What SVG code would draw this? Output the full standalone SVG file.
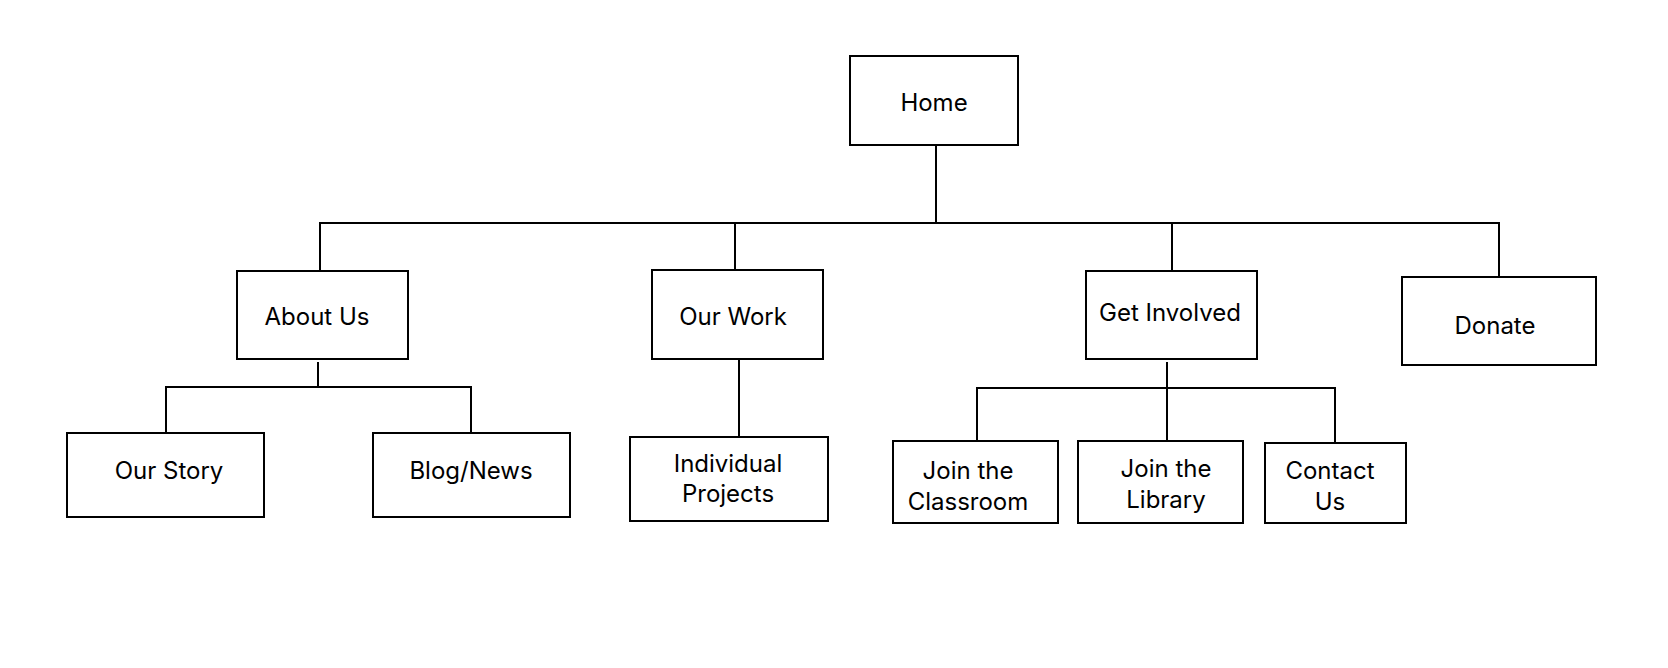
<svg xmlns="http://www.w3.org/2000/svg" width="1668" height="668" viewBox="0 0 1668 668">
<style>
.box{fill:#fff;stroke:#000;stroke-width:2}
.lbl{font-family:Inter,"Noto Sans","Liberation Sans",sans-serif;font-size:24px;fill:#000;text-anchor:middle}
.con{fill:none;stroke:#000;stroke-width:2}
</style>
<rect width="1668" height="668" fill="#fff"/>
<g id="connectors">
<path class="con" d="M936 145V223"/>
<path class="con" d="M320 271V223H1499V277"/>
<path class="con" d="M735 223V271"/>
<path class="con" d="M1172 223V271"/>
<path class="con" d="M318 362V387"/>
<path class="con" d="M166 433V387H471V433"/>
<path class="con" d="M739 359V437"/>
<path class="con" d="M1167 362V441"/>
<path class="con" d="M977 441V388H1335V443"/>
</g>
<g id="home"><rect class="box" x="850" y="56" width="168" height="89"/><text class="lbl" x="934" y="111">Home</text></g>
<g id="about"><rect class="box" x="237" y="271" width="171" height="88"/><text class="lbl" x="317" y="325">About Us</text></g>
<g id="work"><rect class="box" x="652" y="270" width="171" height="89"/><text class="lbl" x="733" y="325">Our Work</text></g>
<g id="involved"><rect class="box" x="1086" y="271" width="171" height="88"/><text class="lbl" x="1170" y="321">Get Involved</text></g>
<g id="donate"><rect class="box" x="1402" y="277" width="194" height="88"/><text class="lbl" x="1495" y="334">Donate</text></g>
<g id="story"><rect class="box" x="67" y="433" width="197" height="84"/><text class="lbl" x="169" y="479">Our Story</text></g>
<g id="blog"><rect class="box" x="373" y="433" width="197" height="84"/><text class="lbl" x="471" y="479">Blog/News</text></g>
<g id="projects"><rect class="box" x="630" y="437" width="198" height="84"/><text class="lbl" x="728" y="472">Individual</text><text class="lbl" x="728" y="502">Projects</text></g>
<g id="classroom"><rect class="box" x="893" y="441" width="165" height="82"/><text class="lbl" x="968" y="479">Join the</text><text class="lbl" x="968" y="510">Classroom</text></g>
<g id="library"><rect class="box" x="1078" y="441" width="165" height="82"/><text class="lbl" x="1166" y="477">Join the</text><text class="lbl" x="1166" y="508">Library</text></g>
<g id="contact"><rect class="box" x="1265" y="443" width="141" height="80"/><text class="lbl" x="1330" y="479">Contact</text><text class="lbl" x="1330" y="510">Us</text></g>
</svg>
